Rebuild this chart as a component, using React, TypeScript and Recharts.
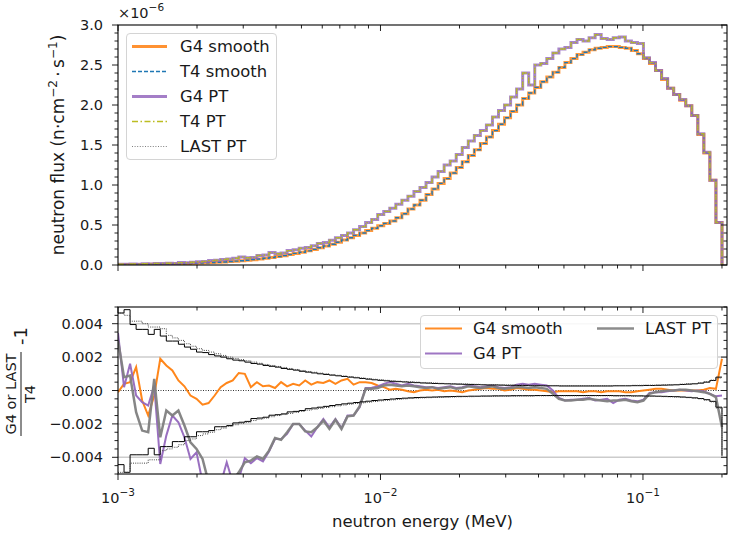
import React from 'react';
import { ComposedChart, Line, XAxis, YAxis, ReferenceLine, Legend } from 'recharts';

const FONT = "'DejaVu Sans', 'Liberation Sans', sans-serif";
const INK = '#1a1a1a';

// ---------- data ----------
// log-spaced energy bin edges (MeV), 100 bins from 1e-3 to 0.2
const ENERGY_EDGES = [
  0.001, 0.0010544, 0.0011118, 0.0011723, 0.0012361, 0.0013033, 0.0013742, 0.001449, 0.0015278, 0.001611,
  0.0016986, 0.0017911, 0.0018885, 0.0019913, 0.0020996, 0.0022139, 0.0023343, 0.0024613, 0.0025953, 0.0027365,
  0.0028854, 0.0030424, 0.003208, 0.0033825, 0.0035666, 0.0037606, 0.0039653, 0.004181, 0.0044085, 0.0046484,
  0.0049013, 0.005168, 0.0054493, 0.0057458, 0.0060584, 0.0063881, 0.0067357, 0.0071022, 0.0074886, 0.0078961,
  0.0083257, 0.0087787, 0.0092563, 0.00976, 0.010291, 0.010851, 0.011441, 0.012064, 0.01272, 0.013412,
  0.014142, 0.014912, 0.015723, 0.016578, 0.01748, 0.018431, 0.019434, 0.020491, 0.021606, 0.022782,
  0.024021, 0.025328, 0.026706, 0.028159, 0.029691, 0.031306, 0.03301, 0.034806, 0.0367, 0.038696,
  0.040801, 0.043021, 0.045362, 0.04783, 0.050432, 0.053176, 0.056069, 0.05912, 0.062336, 0.065728,
  0.069304, 0.073075, 0.077051, 0.081243, 0.085663, 0.090324, 0.095238, 0.10042, 0.10588, 0.11164,
  0.11772, 0.12412, 0.13088, 0.138, 0.14551, 0.15342, 0.16177, 0.17057, 0.17985, 0.18964,
  0.2,
];

// flux per bin (x1e-6 n/cm2/s); last entry closes the histogram
const FLUX_SMOOTH = [
  0.004, 0.005, 0.005, 0.006, 0.007, 0.008, 0.009, 0.01, 0.012, 0.014,
  0.016, 0.018, 0.021, 0.024, 0.027, 0.03, 0.034, 0.038, 0.043, 0.048,
  0.054, 0.06, 0.067, 0.075, 0.084, 0.094, 0.105, 0.117, 0.13, 0.145,
  0.16, 0.177, 0.195, 0.215, 0.237, 0.26, 0.285, 0.312, 0.34, 0.37,
  0.4, 0.43, 0.46, 0.49, 0.52, 0.55, 0.59, 0.64, 0.7, 0.75,
  0.81, 0.88, 0.95, 1.02, 1.08, 1.15, 1.22, 1.29, 1.37, 1.44,
  1.52, 1.6, 1.68, 1.76, 1.84, 1.92, 2.0, 2.08, 2.15, 2.22,
  2.29, 2.35, 2.41, 2.47, 2.53, 2.58, 2.63, 2.66, 2.69, 2.71,
  2.72, 2.73, 2.73, 2.72, 2.71, 2.68, 2.64, 2.58, 2.52, 2.43,
  2.32, 2.21, 2.13, 2.06, 1.99, 1.87, 1.63, 1.4, 1.06, 0.53,
  0,
];
const FLUX_PT = [
  0.01, 0.008, 0.012, 0.01, 0.015, 0.012, 0.02, 0.018, 0.022, 0.02,
  0.03, 0.028, 0.035, 0.04, 0.045, 0.055, 0.06, 0.07, 0.075, 0.085,
  0.1, 0.09, 0.095, 0.12, 0.125, 0.155, 0.14, 0.15, 0.18, 0.19,
  0.21, 0.22, 0.24, 0.27, 0.28, 0.31, 0.34, 0.37, 0.4, 0.44,
  0.48, 0.53, 0.57, 0.63, 0.67, 0.71, 0.76, 0.81, 0.86, 0.92,
  0.97, 1.03, 1.1, 1.17, 1.25, 1.3, 1.38, 1.47, 1.55, 1.62,
  1.68, 1.75, 1.85, 1.93, 2.0, 2.1, 2.2, 2.4, 2.25, 2.5,
  2.52, 2.58, 2.65, 2.7, 2.72, 2.78, 2.82, 2.8, 2.84, 2.88,
  2.83, 2.82, 2.84, 2.85, 2.8, 2.78, 2.77, 2.59, 2.53, 2.43,
  2.33, 2.21, 2.13, 2.07, 1.99, 1.87, 1.64, 1.41, 1.06, 0.53,
  0,
];

// relative differences (x1e-3) at the bin edges
const RATIO_G4_SMOOTH = [
  -0.1, 0.4, 0.5, 1.4, -0.6, -1.5, -0.3, 1.9, 1.5, 1.2,
  0.6, 0.25, -0.3, -0.5, -0.85, -0.75, -0.3, 0.2, 0.45, 0.6,
  1.05, 1.0, 0.2, 0.5, 0.25, 0.3, 0.15, 0.5, 0.25, 0.4,
  0.3, 0.6, 0.35, 0.5, 0.45, 0.6, 0.4, 0.6, 0.7, 0.35,
  0.5, 0.5, 0.45, 0.3, 0.2, 0.05, 0.1, 0.05, -0.05, -0.1,
  0.0, 0.05, 0.0, 0.05, -0.05, 0.0, -0.05, -0.1, 0.0, 0.05,
  0.1, 0.15, 0.1, 0.1, 0.0, 0.05, 0.15, 0.1, 0.05, 0.05,
  0.0, -0.05, -0.1, -0.05, -0.05, -0.05, -0.05, -0.1, -0.05, -0.05,
  -0.1, -0.05, -0.05, -0.05, -0.1, -0.1, -0.05, 0.0, 0.05, 0.1,
  0.1, 0.05, 0.0, 0.0, 0.0, 0.0, 0.0, 0.05, 0.15, 0.1,
  1.9,
];
const RATIO_G4_PT = [
  3.45, 0.2, 1.6, -0.3, -0.7, -0.9, 0.3, -4.4, -2.7, -1.5,
  -1.9, -2.8, -4.1, -3.7, -5.5, -6.5, -6.0, -5.6, -4.3, -5.5,
  -5.3, -4.05, -4.35, -4.05, -4.25, -3.65, -2.9, -2.9, -2.6, -2.0,
  -2.0, -2.4, -2.75, -2.2, -1.7, -2.2, -1.7, -2.25, -1.5, -1.5,
  -1.0, 0.15, 0.16, 0.24, 0.4, 0.5, 0.4, 0.3, 0.4, 0.3,
  0.25, 0.2, 0.2, 0.15, 0.2, 0.25, 0.15, 0.2, 0.3, 0.25,
  0.2, 0.25, 0.3, 0.2, 0.15, 0.2, 0.35, 0.4, 0.35, 0.4,
  0.35, 0.3, 0.0, -0.45, -0.6, -0.55, -0.55, -0.5, -0.45, -0.6,
  -0.55, -0.5, -0.75, -0.55, -0.5, -0.6, -0.65, -0.55, -0.15, -0.1,
  -0.1, -0.05, 0.0, 0.05, 0.0, -0.05, 0.0, -0.05, -0.2, -0.35,
  -0.3,
];
const RATIO_LAST_PT = [
  3.0, 0.8, 0.9, -1.3, -2.4, -2.5, 0.7, -2.8, -1.2, -1.5,
  -1.2, -2.1, -3.1, -3.5, -4.1, -5.5, -6.5, -6.2, -5.8, -5.4,
  -4.9, -4.3, -4.2, -3.95, -4.1, -3.6, -2.85, -2.95, -2.5, -2.0,
  -2.0, -2.45, -2.5, -2.2, -1.8, -2.3, -1.75, -2.3, -1.55, -1.5,
  -0.95, 0.1, 0.1, 0.15, 0.3, 0.35, 0.3, 0.25, 0.3, 0.25,
  0.2, 0.15, 0.2, 0.1, 0.15, 0.2, 0.1, 0.15, 0.25, 0.2,
  0.15, 0.2, 0.25, 0.15, 0.1, 0.15, 0.2, 0.2, 0.15, 0.2,
  0.15, 0.1, -0.2, -0.5, -0.6, -0.6, -0.55, -0.55, -0.5, -0.55,
  -0.6, -0.65, -0.6, -0.6, -0.55, -0.65, -0.7, -0.6, -0.2, -0.1,
  -0.05, 0.0, 0.0, 0.05, 0.05, 0.0, -0.05, -0.1, -0.2, -0.4,
  -2.2,
];

// statistical bands (x1e-3)
const BAND_HI_SMOOTH = [
  4.64, 4.84, 3.95, 3.66, 3.66, 3.36, 3.66, 3.26, 2.96, 2.96,
  2.77, 2.6, 2.47, 2.3, 2.27, 2.15, 2.07, 2.0, 1.9, 1.82,
  1.78, 1.7, 1.62, 1.58, 1.5, 1.45, 1.4, 1.32, 1.27, 1.22,
  1.15, 1.1, 1.05, 1.0, 0.96, 0.92, 0.88, 0.84, 0.8, 0.76,
  0.72, 0.68, 0.64, 0.61, 0.58, 0.55, 0.53, 0.51, 0.49, 0.47,
  0.45, 0.44, 0.42, 0.41, 0.4, 0.39, 0.38, 0.37, 0.36, 0.35,
  0.34, 0.33, 0.33, 0.32, 0.31, 0.31, 0.3, 0.3, 0.29, 0.29,
  0.28, 0.28, 0.28, 0.27, 0.27, 0.27, 0.27, 0.27, 0.27, 0.27,
  0.27, 0.27, 0.28, 0.28, 0.28, 0.29, 0.29, 0.3, 0.3, 0.31,
  0.32, 0.33, 0.34, 0.36, 0.38, 0.4, 0.44, 0.5, 0.6, 0.8,
  0.8,
];
const BAND_HI_PT = [
  4.64, 4.5, 4.15, 4.15, 4.0, 3.8, 3.8, 3.7, 3.3, 3.15,
  3.0, 2.8, 2.65, 2.5, 2.4, 2.3, 2.2, 2.1, 2.0, 1.92,
  1.85, 1.78, 1.7, 1.63, 1.56, 1.5, 1.44, 1.38, 1.32, 1.26,
  1.2, 1.14, 1.09, 1.04, 1.0, 0.95, 0.91, 0.87, 0.83, 0.79,
  0.75, 0.71, 0.67, 0.64, 0.61, 0.58, 0.56, 0.54, 0.52, 0.5,
  0.48, 0.46, 0.45, 0.43, 0.42, 0.41, 0.4, 0.39, 0.38, 0.37,
  0.36, 0.35, 0.35, 0.34, 0.33, 0.33, 0.32, 0.32, 0.31, 0.31,
  0.3, 0.3, 0.3, 0.29, 0.29, 0.29, 0.29, 0.29, 0.29, 0.29,
  0.29, 0.29, 0.3, 0.3, 0.3, 0.31, 0.31, 0.32, 0.32, 0.33,
  0.34, 0.35, 0.36, 0.38, 0.4, 0.42, 0.46, 0.52, 0.62, 0.75,
  0.75,
];
const BAND_LO_SMOOTH = [
  -4.44, -4.9, -3.85, -3.85, -3.85, -3.46, -3.85, -3.36, -3.36, -3.06,
  -3.06, -2.77, -2.77, -2.47, -2.47, -2.4, -2.17, -2.17, -2.1, -1.94,
  -1.9, -1.85, -1.68, -1.65, -1.6, -1.48, -1.45, -1.4, -1.28, -1.25,
  -1.2, -1.09, -1.05, -1.0, -0.95, -0.9, -0.85, -0.8, -0.76, -0.72,
  -0.68, -0.64, -0.6, -0.57, -0.54, -0.51, -0.48, -0.46, -0.44, -0.42,
  -0.41, -0.4, -0.39, -0.38, -0.37, -0.36, -0.35, -0.35, -0.34, -0.34,
  -0.33, -0.33, -0.32, -0.32, -0.32, -0.31, -0.31, -0.31, -0.31, -0.3,
  -0.3, -0.3, -0.3, -0.3, -0.3, -0.3, -0.3, -0.3, -0.3, -0.3,
  -0.3, -0.3, -0.31, -0.31, -0.31, -0.32, -0.32, -0.33, -0.33, -0.34,
  -0.35, -0.36, -0.37, -0.39, -0.41, -0.44, -0.48, -0.55, -0.65, -1.0,
  -3.9,
];
const BAND_LO_PT = [
  -4.9, -4.9, -4.35, -4.35, -4.35, -4.15, -4.15, -3.6, -3.5, -3.4,
  -3.25, -3.0, -2.9, -2.7, -2.6, -2.5, -2.35, -2.25, -2.15, -2.05,
  -1.97, -1.9, -1.8, -1.72, -1.65, -1.57, -1.5, -1.44, -1.37, -1.31,
  -1.25, -1.18, -1.12, -1.07, -1.02, -0.97, -0.92, -0.87, -0.82, -0.78,
  -0.74, -0.7, -0.66, -0.62, -0.59, -0.56, -0.53, -0.5, -0.48, -0.46,
  -0.44, -0.43, -0.42, -0.41, -0.4, -0.39, -0.38, -0.37, -0.37, -0.36,
  -0.36, -0.35, -0.35, -0.34, -0.34, -0.34, -0.33, -0.33, -0.33, -0.32,
  -0.32, -0.32, -0.32, -0.32, -0.32, -0.32, -0.32, -0.32, -0.32, -0.32,
  -0.32, -0.32, -0.33, -0.33, -0.33, -0.34, -0.34, -0.35, -0.35, -0.36,
  -0.37, -0.38, -0.39, -0.41, -0.43, -0.46, -0.5, -0.57, -0.68, -1.05,
  -4.0,
];

// axis ticks
const X_DOMAIN = [0.001, 0.209];
const X_TICKS = [0.001, 0.002, 0.003, 0.004, 0.005, 0.006, 0.007, 0.008, 0.009,
  0.01, 0.02, 0.03, 0.04, 0.05, 0.06, 0.07, 0.08, 0.09, 0.1, 0.2];
const X_MAJOR_TICKS = [0.001, 0.01, 0.1];
const X_MAJOR_EXP = ['\u22123', '\u22122', '\u22121'];

const TOP_Y_TICKS = [0, 0.1, 0.2, 0.3, 0.4, 0.5, 0.6, 0.7, 0.8, 0.9, 1, 1.1, 1.2, 1.3, 1.4, 1.5,
  1.6, 1.7, 1.8, 1.9, 2, 2.1, 2.2, 2.3, 2.4, 2.5, 2.6, 2.7, 2.8, 2.9, 3];
const TOP_Y_MAJOR = [0, 0.5, 1, 1.5, 2, 2.5, 3];
const BOT_Y_TICKS = [-5, -4.5, -4, -3.5, -3, -2.5, -2, -1.5, -1, -0.5, 0, 0.5, 1, 1.5, 2, 2.5, 3, 3.5, 4, 4.5, 5];
const BOT_Y_MAJOR = [-4, -2, 0, 2, 4];
const BOT_GRID = [-4, -2, 2, 4];

const TOP_ROWS = ENERGY_EDGES.map((e, i) => ({
  e,
  g4Smooth: FLUX_SMOOTH[i],
  t4Smooth: FLUX_SMOOTH[i],
  g4Pt: FLUX_PT[i],
  t4Pt: FLUX_PT[i],
  lastPt: FLUX_PT[i],
}));
const BOT_ROWS = ENERGY_EDGES.map((e, i) => ({
  e,
  hiS: BAND_HI_SMOOTH[i],
  hiP: BAND_HI_PT[i],
  loS: BAND_LO_SMOOTH[i],
  loP: BAND_LO_PT[i],
  rG4s: RATIO_G4_SMOOTH[i],
  rG4p: RATIO_G4_PT[i],
  rLast: RATIO_LAST_PT[i],
}));

// ---------- layout ----------
const W = 730;
const AXIS_W = 118;
const MR = 3;
const PLOT_W = W - AXIS_W - MR;
const TOP_H = 290, TOP_MT = 25, TOP_XH = 25;
const TOP_PLOT_H = TOP_H - TOP_MT - TOP_XH;
const BOT_Y0 = 290, BOT_H = 251, BOT_MT = 17, BOT_XH = 67;
const BOT_PLOT_H = BOT_H - BOT_MT - BOT_XH;

const C = {
  orange: '#ff7f0e', blue: '#1f77b4', purple: '#9467bd', olive: '#bcbd22', gray: '#7f7f7f',
};

// ---------- ticks ----------
const XTick = (props: any) => {
  const { x, y, payload, plotH, showLabel } = props;
  const mi = X_MAJOR_TICKS.indexOf(payload.value);
  const len = mi >= 0 ? 6 : 3.5;
  return (
    <g>
      <line x1={x} x2={x} y1={y} y2={y + len} stroke="#222" strokeWidth={1} />
      <line x1={x} x2={x} y1={y - plotH} y2={y - plotH + len} stroke="#222" strokeWidth={1} />
      {showLabel && mi >= 0 && (
        <text x={x} y={y + 29} textAnchor="middle" fontSize={14.5} fill={INK} fontFamily={FONT}>
          10<tspan dy={-7} fontSize={10.5}>{X_MAJOR_EXP[mi]}</tspan>
        </text>
      )}
    </g>
  );
};

const YTick = (props: any) => {
  const { x, y, payload, majors, fmt } = props;
  const v = payload.value;
  const major = majors.indexOf(v) >= 0;
  const len = major ? 6 : 3.5;
  return (
    <g>
      <line x1={x - len} x2={x} y1={y} y2={y} stroke="#222" strokeWidth={1} />
      <line x1={x + PLOT_W} x2={x + PLOT_W - len} y1={y} y2={y} stroke="#222" strokeWidth={1} />
      {major && (
        <text x={x - 15} y={y} dy={5} textAnchor="end" fontSize={14.5} fill={INK} fontFamily={FONT}>
          {fmt(v)}
        </text>
      )}
    </g>
  );
};

const fmtTop = (v: number) => v.toFixed(1);
const fmtBot = (v: number) => {
  const s = (v / 1000).toFixed(3);
  return v < 0 ? '\u2212' + s.slice(1) : s;
};

// ---------- legends ----------
const TOP_LEGEND = [
  { label: 'G4 smooth', color: C.orange, w: 3, dash: undefined as string | undefined, op: 0.85 },
  { label: 'T4 smooth', color: C.blue, w: 1.5, dash: '4 2', op: 1 },
  { label: 'G4 PT', color: C.purple, w: 3, dash: undefined, op: 0.85 },
  { label: 'T4 PT', color: C.olive, w: 1.5, dash: '6 2.5 1.5 2.5', op: 1 },
  { label: 'LAST PT', color: C.gray, w: 1, dash: '1 1.6', op: 1 },
];
const BOT_LEGEND = [
  { label: 'G4 smooth', color: C.orange, w: 2, col: 0, row: 0 },
  { label: 'G4 PT', color: C.purple, w: 2, col: 0, row: 1 },
  { label: 'LAST PT', color: C.gray, w: 2.5, col: 1, row: 0 },
];

const TopLegend = () => (
  <div style={{
    width: 151, height: 127, boxSizing: 'border-box', border: '1px solid #d4d4d4',
    borderRadius: 4, background: 'rgba(255,255,255,0.85)',
  }}>
    {TOP_LEGEND.map((s) => (
      <div key={s.label} style={{ height: 25, display: 'flex', alignItems: 'center' }}>
        <svg width={53} height={25} style={{ display: 'block' }}>
          <line x1={5} x2={40} y1={12.5} y2={12.5} stroke={s.color} strokeWidth={s.w}
            strokeDasharray={s.dash} strokeOpacity={s.op} />
        </svg>
        <span style={{ fontSize: 16.4, fontFamily: FONT, color: INK, lineHeight: '25px', whiteSpace: 'nowrap' }}>
          {s.label}
        </span>
      </div>
    ))}
  </div>
);

const BotLegend = () => (
  <div style={{
    position: 'relative', width: 298, height: 54, boxSizing: 'border-box', border: '1px solid #d4d4d4',
    borderRadius: 4, background: 'rgba(255,255,255,0.85)',
  }}>
    {BOT_LEGEND.map((s) => (
      <div key={s.label} style={{
        position: 'absolute', left: s.col * 172, top: s.row * 25, height: 25,
        display: 'flex', alignItems: 'center',
      }}>
        <svg width={52} height={25} style={{ display: 'block' }}>
          <line x1={4} x2={41} y1={12.5} y2={12.5} stroke={s.color} strokeWidth={s.w} strokeOpacity={0.9} />
        </svg>
        <span style={{ fontSize: 16.4, fontFamily: FONT, color: INK, lineHeight: '25px', whiteSpace: 'nowrap' }}>
          {s.label}
        </span>
      </div>
    ))}
  </div>
);

// ---------- app ----------
export default function App() {
  const lineCommon = { dot: false, isAnimationActive: false, activeDot: false } as any;
  return (
    <div style={{ position: 'absolute', left: 0, top: 0, width: W, height: 541, background: '#fff', overflow: 'hidden' }}>
      <div style={{ position: 'absolute', left: 0, top: 0 }}>
        <ComposedChart width={W} height={TOP_H} data={TOP_ROWS} margin={{ top: TOP_MT, right: MR, bottom: 0, left: 0 }}>
          <XAxis dataKey="e" type="number" scale="log" domain={X_DOMAIN} allowDataOverflow ticks={X_TICKS}
            interval={0} height={TOP_XH} tickSize={0} tickMargin={0} axisLine={false} tickLine={false}
            tick={(p: any) => <XTick {...p} plotH={TOP_PLOT_H} showLabel={false} />} />
          <YAxis type="number" domain={[0, 3]} allowDataOverflow ticks={TOP_Y_TICKS} interval={0} width={AXIS_W}
            tickSize={0} tickMargin={0} axisLine={false} tickLine={false}
            tick={(p: any) => <YTick {...p} majors={TOP_Y_MAJOR} fmt={fmtTop} />} />
          <Line dataKey="g4Smooth" name="G4 smooth" type="stepAfter" stroke={C.orange} strokeWidth={3} strokeOpacity={0.8} {...lineCommon} />
          <Line dataKey="t4Smooth" name="T4 smooth" type="stepAfter" stroke={C.blue} strokeWidth={1.4} strokeDasharray="4 2" {...lineCommon} />
          <Line dataKey="g4Pt" name="G4 PT" type="stepAfter" stroke={C.purple} strokeWidth={3} strokeOpacity={0.8} {...lineCommon} />
          <Line dataKey="t4Pt" name="T4 PT" type="stepAfter" stroke={C.olive} strokeWidth={1.4} strokeDasharray="6 2.5 1.5 2.5" {...lineCommon} />
          <Line dataKey="lastPt" name="LAST PT" type="stepAfter" stroke={C.gray} strokeWidth={0.8} strokeOpacity={0.7} strokeDasharray="1 1.6" {...lineCommon} />
          <Legend layout="vertical" align="center" verticalAlign="middle"
            wrapperStyle={{ left: 126, top: 33, width: 151, height: 127 }} content={() => <TopLegend />} />
        </ComposedChart>
      </div>
      <div style={{ position: 'absolute', left: 0, top: BOT_Y0 }}>
        <ComposedChart width={W} height={BOT_H} data={BOT_ROWS} margin={{ top: BOT_MT, right: MR, bottom: 0, left: 0 }}>
          <XAxis dataKey="e" type="number" scale="log" domain={X_DOMAIN} allowDataOverflow ticks={X_TICKS}
            interval={0} height={BOT_XH} tickSize={0} tickMargin={0} axisLine={false} tickLine={false}
            tick={(p: any) => <XTick {...p} plotH={BOT_PLOT_H} showLabel />} />
          <YAxis type="number" domain={[-5, 5]} allowDataOverflow ticks={BOT_Y_TICKS} interval={0} width={AXIS_W}
            tickSize={0} tickMargin={0} axisLine={false} tickLine={false}
            tick={(p: any) => <YTick {...p} majors={BOT_Y_MAJOR} fmt={fmtBot} />} />
          {BOT_GRID.map((g) => (
            <ReferenceLine key={g} y={g} stroke="#cccccc" strokeWidth={1.5} />
          ))}
          <ReferenceLine y={0} stroke="#000" strokeWidth={0.8} strokeDasharray="1 1.5" />
          <Line dataKey="rG4s" name="G4 smooth" type="linear" stroke={C.orange} strokeWidth={2} strokeOpacity={0.95} {...lineCommon} />
          <Line dataKey="rG4p" name="G4 PT" type="linear" stroke={C.purple} strokeWidth={2} strokeOpacity={0.95} {...lineCommon} />
          <Line dataKey="rLast" name="LAST PT" type="linear" stroke={C.gray} strokeWidth={2.5} strokeOpacity={0.95} {...lineCommon} />
          <Line dataKey="hiS" type="stepAfter" stroke="#000" strokeWidth={1} {...lineCommon} />
          <Line dataKey="loS" type="stepAfter" stroke="#000" strokeWidth={1} {...lineCommon} />
          <Line dataKey="hiP" type="stepAfter" stroke="#444" strokeWidth={1} strokeDasharray="1 1.2" {...lineCommon} />
          <Line dataKey="loP" type="stepAfter" stroke="#444" strokeWidth={1} strokeDasharray="1 1.2" {...lineCommon} />
          <Legend layout="vertical" align="center" verticalAlign="middle"
            wrapperStyle={{ left: 420, top: 25, width: 298, height: 54 }} content={() => <BotLegend />} />
        </ComposedChart>
      </div>
      <svg width={W} height={541} style={{ position: 'absolute', left: 0, top: 0, pointerEvents: 'none' }}>
        <rect x={AXIS_W} y={TOP_MT} width={PLOT_W} height={TOP_PLOT_H} fill="none" stroke="#000" strokeWidth={1.1} />
        <rect x={AXIS_W} y={BOT_Y0 + BOT_MT} width={PLOT_W} height={BOT_PLOT_H} fill="none" stroke="#000" strokeWidth={1.1} />
        <text x={118} y={18} fontSize={14.5} fill={INK} fontFamily={FONT}>
          {'\u00d710'}<tspan dy={-7} fontSize={10.5}>{'\u22126'}</tspan>
        </text>
        <text transform={`translate(64, ${TOP_MT + TOP_PLOT_H / 2}) rotate(-90)`} textAnchor="middle"
          fontSize={17} fill={INK} fontFamily={FONT}>
          {'neutron flux (n\u00b7cm'}
          <tspan dy={-7} fontSize={12}>{'\u22122'}</tspan>
          <tspan dy={7} fontSize={17}>{'\u2009\u00b7\u2009s'}</tspan>
          <tspan dy={-7} fontSize={12}>{'\u22121'}</tspan>
          <tspan dy={7} fontSize={17}>)</tspan>
        </text>
        <g transform="translate(21, 394) rotate(-90)" fontFamily={FONT} fill={INK}>
          <text x={0} y={-5} textAnchor="middle" fontSize={14.5}>G4 or LAST</text>
          <line x1={-42} x2={42} y1={0} y2={0} stroke={INK} strokeWidth={1} />
          <text x={0} y={14} textAnchor="middle" fontSize={14.5}>T4</text>
          <text x={49} y={6} fontSize={18}>-1</text>
        </g>
        <text x={AXIS_W + PLOT_W / 2} y={527} textAnchor="middle" fontSize={16.5} fill={INK} fontFamily={FONT}>
          neutron energy (MeV)
        </text>
      </svg>
    </div>
  );
}
